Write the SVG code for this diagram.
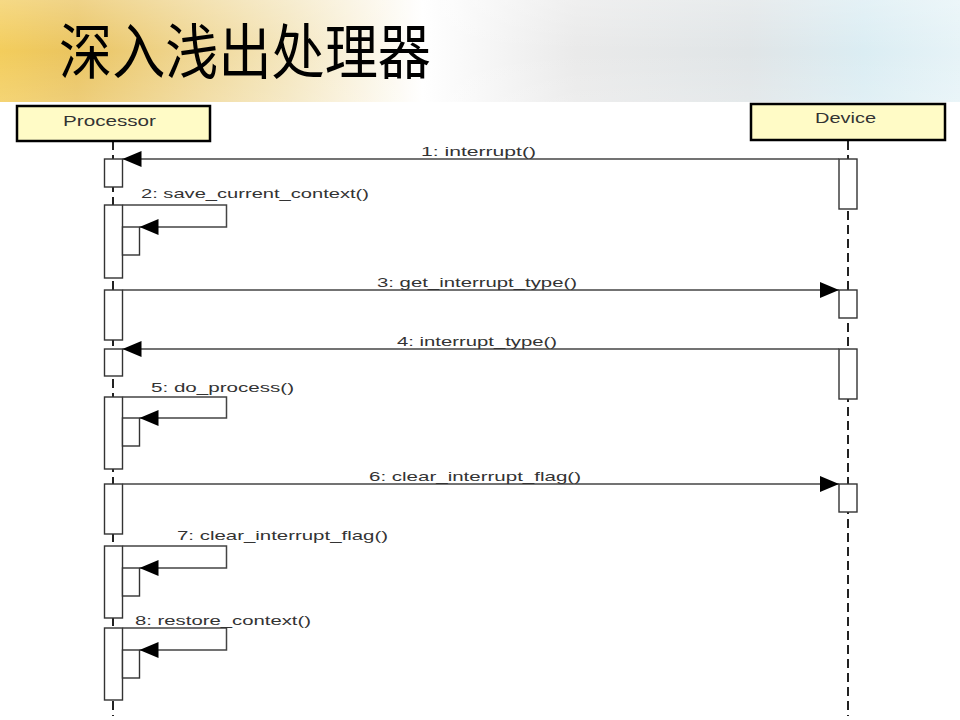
<svg xmlns="http://www.w3.org/2000/svg" width="960" height="720" viewBox="0 0 960 720">
<defs>
<linearGradient id="hdr" x1="0" y1="0" x2="1" y2="0">
<stop offset="0" stop-color="#F3CD5C"/>
<stop offset="0.08" stop-color="#EAC460"/>
<stop offset="0.3" stop-color="#F4E6BE"/>
<stop offset="0.44" stop-color="#FFFFFF"/>
<stop offset="0.6" stop-color="#EAEAEA"/>
<stop offset="0.78" stop-color="#E0E5E7"/>
<stop offset="0.9" stop-color="#DBEDF3"/>
<stop offset="1" stop-color="#E6F3F7"/>
</linearGradient>
<linearGradient id="hdrv" x1="0" y1="0" x2="0" y2="1">
<stop offset="0" stop-color="#FFFFFF" stop-opacity="0.25"/>
<stop offset="0.5" stop-color="#FFFFFF" stop-opacity="0"/>
<stop offset="1" stop-color="#FFFFFF" stop-opacity="0.15"/>
</linearGradient>
<marker id="ah" markerUnits="userSpaceOnUse" markerWidth="20" markerHeight="16" refX="19" refY="8" orient="auto">
<path d="M0,0 L19,8 L0,16 Z" fill="#000"/>
</marker>
<style>
.obj{fill:#FFFBC6;stroke:#000;stroke-width:2.5}
.objt{font-family:"Liberation Sans",Arial,sans-serif;font-size:14px;fill:#333}
.life{stroke:#222;stroke-width:2;stroke-dasharray:9 5;fill:none}
.act{fill:#fff;stroke:#333;stroke-width:1.4}
.msg{stroke:#444;stroke-width:1.5;fill:none;marker-end:url(#ah)}
.lbl{font-family:"Liberation Sans",Arial,sans-serif;font-size:13px;fill:#333}
</style>
</defs>
<rect x="0" y="0" width="960" height="720" fill="#fff"/>
<g id="header">
<rect x="0" y="0" width="960" height="102" fill="url(#hdr)"/>
<rect x="0" y="0" width="960" height="102" fill="url(#hdrv)"/>
<text x="59" y="74" transform="translate(0,74) scale(1,1.12) translate(0,-74)" font-family="'Noto Sans CJK SC','Noto Sans CJK JP',sans-serif" font-size="54" fill="#000" textLength="372" lengthAdjust="spacingAndGlyphs">深入浅出处理器</text>
</g>
<g id="lifelines">
<line class="life" x1="113" y1="141" x2="113" y2="716"/>
<line class="life" x1="848" y1="141" x2="848" y2="716"/>
</g>
<g id="processor">
<rect class="obj" x="17" y="106" width="193" height="35"/>
<text class="objt" x="63" y="126" textLength="93" lengthAdjust="spacingAndGlyphs">Processor</text>
</g>
<g id="device">
<rect class="obj" x="751" y="104" width="194" height="36"/>
<text class="objt" x="815" y="123" textLength="61" lengthAdjust="spacingAndGlyphs">Device</text>
</g>
<g id="activations">
<rect class="act" x="104.5" y="159" width="18" height="28"/>
<rect class="act" x="104.5" y="205" width="18" height="73"/>
<rect class="act" x="122.5" y="227" width="17" height="28"/>
<rect class="act" x="104.5" y="290" width="18" height="50"/>
<rect class="act" x="104.5" y="349" width="18" height="27"/>
<rect class="act" x="104.5" y="397" width="18" height="72"/>
<rect class="act" x="122.5" y="418" width="17" height="28"/>
<rect class="act" x="104.5" y="484" width="18" height="50"/>
<rect class="act" x="104.5" y="546" width="18" height="72"/>
<rect class="act" x="122.5" y="568" width="17" height="28"/>
<rect class="act" x="104.5" y="628" width="18" height="72"/>
<rect class="act" x="122.5" y="650" width="17" height="28"/>
<rect class="act" x="839" y="159" width="18" height="50"/>
<rect class="act" x="839" y="290" width="18" height="28"/>
<rect class="act" x="839" y="349" width="18" height="50"/>
<rect class="act" x="839" y="484" width="18" height="28"/>
</g>
<g id="connectors">
<line class="msg" x1="839" y1="159" x2="122.5" y2="159"/>
<path class="msg" d="M122.5,205 H226.5 V227 H139.5"/>
<line class="msg" x1="122.5" y1="290" x2="839" y2="290"/>
<line class="msg" x1="839" y1="349" x2="122.5" y2="349"/>
<path class="msg" d="M122.5,397 H226.5 V418 H139.5"/>
<line class="msg" x1="122.5" y1="484" x2="839" y2="484"/>
<path class="msg" d="M122.5,546 H226.5 V568 H139.5"/>
<path class="msg" d="M122.5,628 H226.5 V650 H139.5"/>
</g>
<g id="labels">
<text class="lbl" x="421" y="156" textLength="115" lengthAdjust="spacingAndGlyphs">1: interrupt()</text>
<text class="lbl" x="141" y="198" textLength="228" lengthAdjust="spacingAndGlyphs">2: save_current_context()</text>
<text class="lbl" x="377" y="287" textLength="200" lengthAdjust="spacingAndGlyphs">3: get_interrupt_type()</text>
<text class="lbl" x="397" y="346" textLength="160" lengthAdjust="spacingAndGlyphs">4: interrupt_type()</text>
<text class="lbl" x="151" y="392" textLength="143" lengthAdjust="spacingAndGlyphs">5: do_process()</text>
<text class="lbl" x="369" y="481" textLength="212" lengthAdjust="spacingAndGlyphs">6: clear_interrupt_flag()</text>
<text class="lbl" x="177" y="540" textLength="211" lengthAdjust="spacingAndGlyphs">7: clear_interrupt_flag()</text>
<text class="lbl" x="135" y="625" textLength="176" lengthAdjust="spacingAndGlyphs">8: restore_context()</text>
</g>
</svg>
